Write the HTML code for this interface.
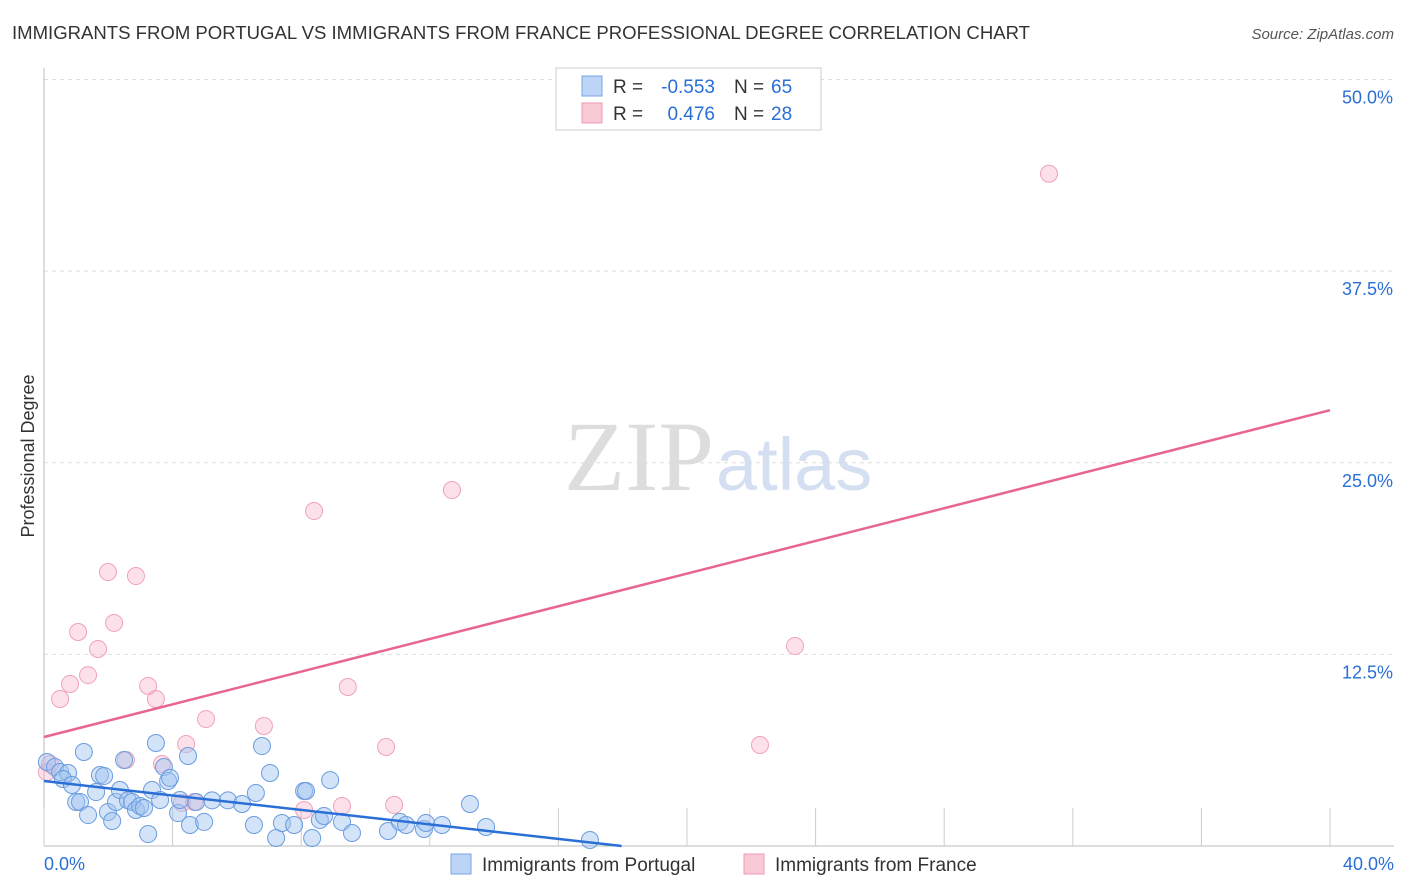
<!DOCTYPE html>
<html><head><meta charset="utf-8"><style>
body{margin:0;background:#fff;font-family:"Liberation Sans",sans-serif;}
#wrap{position:relative;width:1406px;height:892px;overflow:hidden}
</style></head><body>
<div id="wrap">
<svg id="svg" width="1406" height="892" xmlns="http://www.w3.org/2000/svg">
<text x="12" y="39" font-size="18" fill="#333" textLength="1018" lengthAdjust="spacingAndGlyphs">IMMIGRANTS FROM PORTUGAL VS IMMIGRANTS FROM FRANCE PROFESSIONAL DEGREE CORRELATION CHART</text>
<text x="1394" y="39" font-size="15" fill="#555" font-style="italic" text-anchor="end">Source: ZipAtlas.com</text>
<text x="34" y="456" font-size="18" fill="#333" text-anchor="middle" transform="rotate(-90 34 456)">Professional Degree</text>
<text x="714" y="490" font-size="100" fill="#ddd" font-family="Liberation Serif,serif" text-anchor="end">ZIP</text>
<text x="716" y="490" font-size="74" fill="#d4e0f2" text-anchor="start">atlas</text>
<g id="grid"></g><g id="marks"></g>
<g>
<rect x="556" y="68" width="265" height="62" fill="#fff" stroke="#ccc"/>
<rect x="582" y="76" width="20" height="20" fill="#bcd4f5" stroke="#7aa6e6"/>
<rect x="582" y="103" width="20" height="20" fill="#f9c9d6" stroke="#ee9ab2"/>
<text x="613" y="93" font-size="19" fill="#333">R =</text>
<text x="715" y="93" font-size="19" fill="#2a6fd6" text-anchor="end">-0.553</text>
<text x="734" y="93" font-size="19" fill="#333">N =</text>
<text x="771" y="93" font-size="19" fill="#2a6fd6">65</text>
<text x="613" y="120" font-size="19" fill="#333">R =</text>
<text x="715" y="120" font-size="19" fill="#2a6fd6" text-anchor="end">0.476</text>
<text x="734" y="120" font-size="19" fill="#333">N =</text>
<text x="771" y="120" font-size="19" fill="#2a6fd6">28</text>
</g>
<g>
<rect x="451" y="854" width="20" height="20" fill="#bcd4f5" stroke="#7aa6e6"/>
<text x="482" y="871" font-size="19" fill="#333">Immigrants from Portugal</text>
<rect x="744" y="854" width="20" height="20" fill="#f9c9d6" stroke="#ee9ab2"/>
<text x="775" y="871" font-size="19" fill="#333">Immigrants from France</text>
</g>
</svg></div>
<script>
const yTicks=[12.5,25,37.5,50];
const yTickLabels=["12.5%","25.0%","37.5%","50.0%"];
const xTickVals=[0,4,8,12,16,20,24,28,32,36,40];
const blueX=[0.09,0.34,0.5,0.75,0.59,0.87,1.0,1.12,1.24,1.37,1.62,1.74,1.87,1.99,2.12,2.24,2.36,2.49,2.61,2.74,2.86,2.99,3.11,3.24,3.36,3.48,3.61,3.73,3.86,3.92,4.17,4.23,4.48,4.54,4.73,4.98,5.23,5.72,6.16,6.53,6.59,6.78,7.03,7.22,7.4,7.78,8.09,8.15,8.34,8.58,8.71,8.9,9.27,9.58,10.7,11.07,11.26,11.82,11.88,12.38,13.25,13.75,16.98];
const blueY=[5.48,5.15,4.83,4.76,4.37,3.98,2.87,2.87,6.13,2.02,3.52,4.63,4.57,2.22,1.63,2.87,3.65,5.61,2.98,2.87,2.35,2.61,2.48,0.78,3.65,6.72,3.0,5.15,4.24,4.44,2.15,3.0,5.87,1.37,2.87,1.57,2.98,2.98,2.74,1.37,3.46,6.52,4.76,0.52,1.5,1.37,3.59,3.59,0.52,1.7,1.96,4.3,1.57,0.85,0.98,1.57,1.37,1.11,1.5,1.37,2.74,1.24,0.39];
const pinkX=[0.09,0.19,0.5,0.81,1.06,1.37,1.68,1.99,2.18,2.55,2.86,3.24,3.48,3.67,4.29,4.42,4.67,5.04,6.84,8.09,8.4,9.27,9.45,10.64,10.89,12.69,22.27,23.36,31.26];
const pinkY=[4.83,5.35,9.59,10.57,13.96,11.15,12.85,17.87,14.55,5.61,17.61,10.44,9.59,5.35,2.81,6.65,2.87,8.28,7.83,2.35,21.85,2.61,10.37,6.46,2.68,23.22,6.59,13.05,43.85];
const blueFit=[4.24,-0.236];
const pinkFit=[7.11,0.533];
const X=v=>44+v*32.15, Y=v=>846-v*15.33;
const NS="http://www.w3.org/2000/svg";
const grid=document.getElementById('grid'),marks=document.getElementById('marks');
function mk(tag,attrs,parent){const e=document.createElementNS(NS,tag);for(const k in attrs)e.setAttribute(k,attrs[k]);parent.appendChild(e);return e;}
yTicks.forEach((t,i)=>{
 const l=mk('line',{x1:44,x2:1394,y1:Y(t),y2:Y(t),stroke:'#ddd','stroke-dasharray':'4 4'},grid);
 
 
 const tx=mk('text',{x:1393,y:Y(t)+24,'font-size':18,fill:'#2a6fd6','text-anchor':'end'},grid);
 tx.textContent=yTickLabels[i];
 
 
});
const ax=mk('line',{x1:44,x2:1394,y1:846,y2:846,stroke:'#bbb'},grid);


const ay=mk('line',{x1:44,x2:44,y1:68,y2:846,stroke:'#bbb'},grid);


xTickVals.forEach(t=>{const l=mk('line',{x1:X(t),x2:X(t),y1:808,y2:846,stroke:'#ccc'},grid);
 
 });
[[0,'0.0%','start',44],[40,'40.0%','end',1394]].forEach(a=>{const t=mk('text',{x:a[3],y:870,'font-size':18,fill:'#2a6fd6','text-anchor':a[2]},grid);t.textContent=a[1];
 
 });
pinkX.forEach((x,i)=>{const c=mk('circle',{cx:X(x),cy:Y(pinkY[i]),r:8.5,fill:'rgba(246,170,195,0.35)',stroke:'#f0a2ba','stroke-width':1},marks);
 
 });
blueX.forEach((x,i)=>{const c=mk('circle',{cx:X(x),cy:Y(blueY[i]),r:8.5,fill:'rgba(160,195,240,0.45)',stroke:'#6a9ce0','stroke-width':1},marks);
 
 });
const bEnd=-blueFit[0]/blueFit[1];
const bl=mk('line',{x1:X(0),y1:Y(blueFit[0]),x2:X(bEnd),y2:Y(0),stroke:'#2a6fd6','stroke-width':2.5},marks);


const pl=mk('line',{x1:X(0),y1:Y(pinkFit[0]),x2:X(40),y2:Y(pinkFit[0]+pinkFit[1]*40),stroke:'#e8658f','stroke-width':2.5},marks);


</script>
</body></html>
